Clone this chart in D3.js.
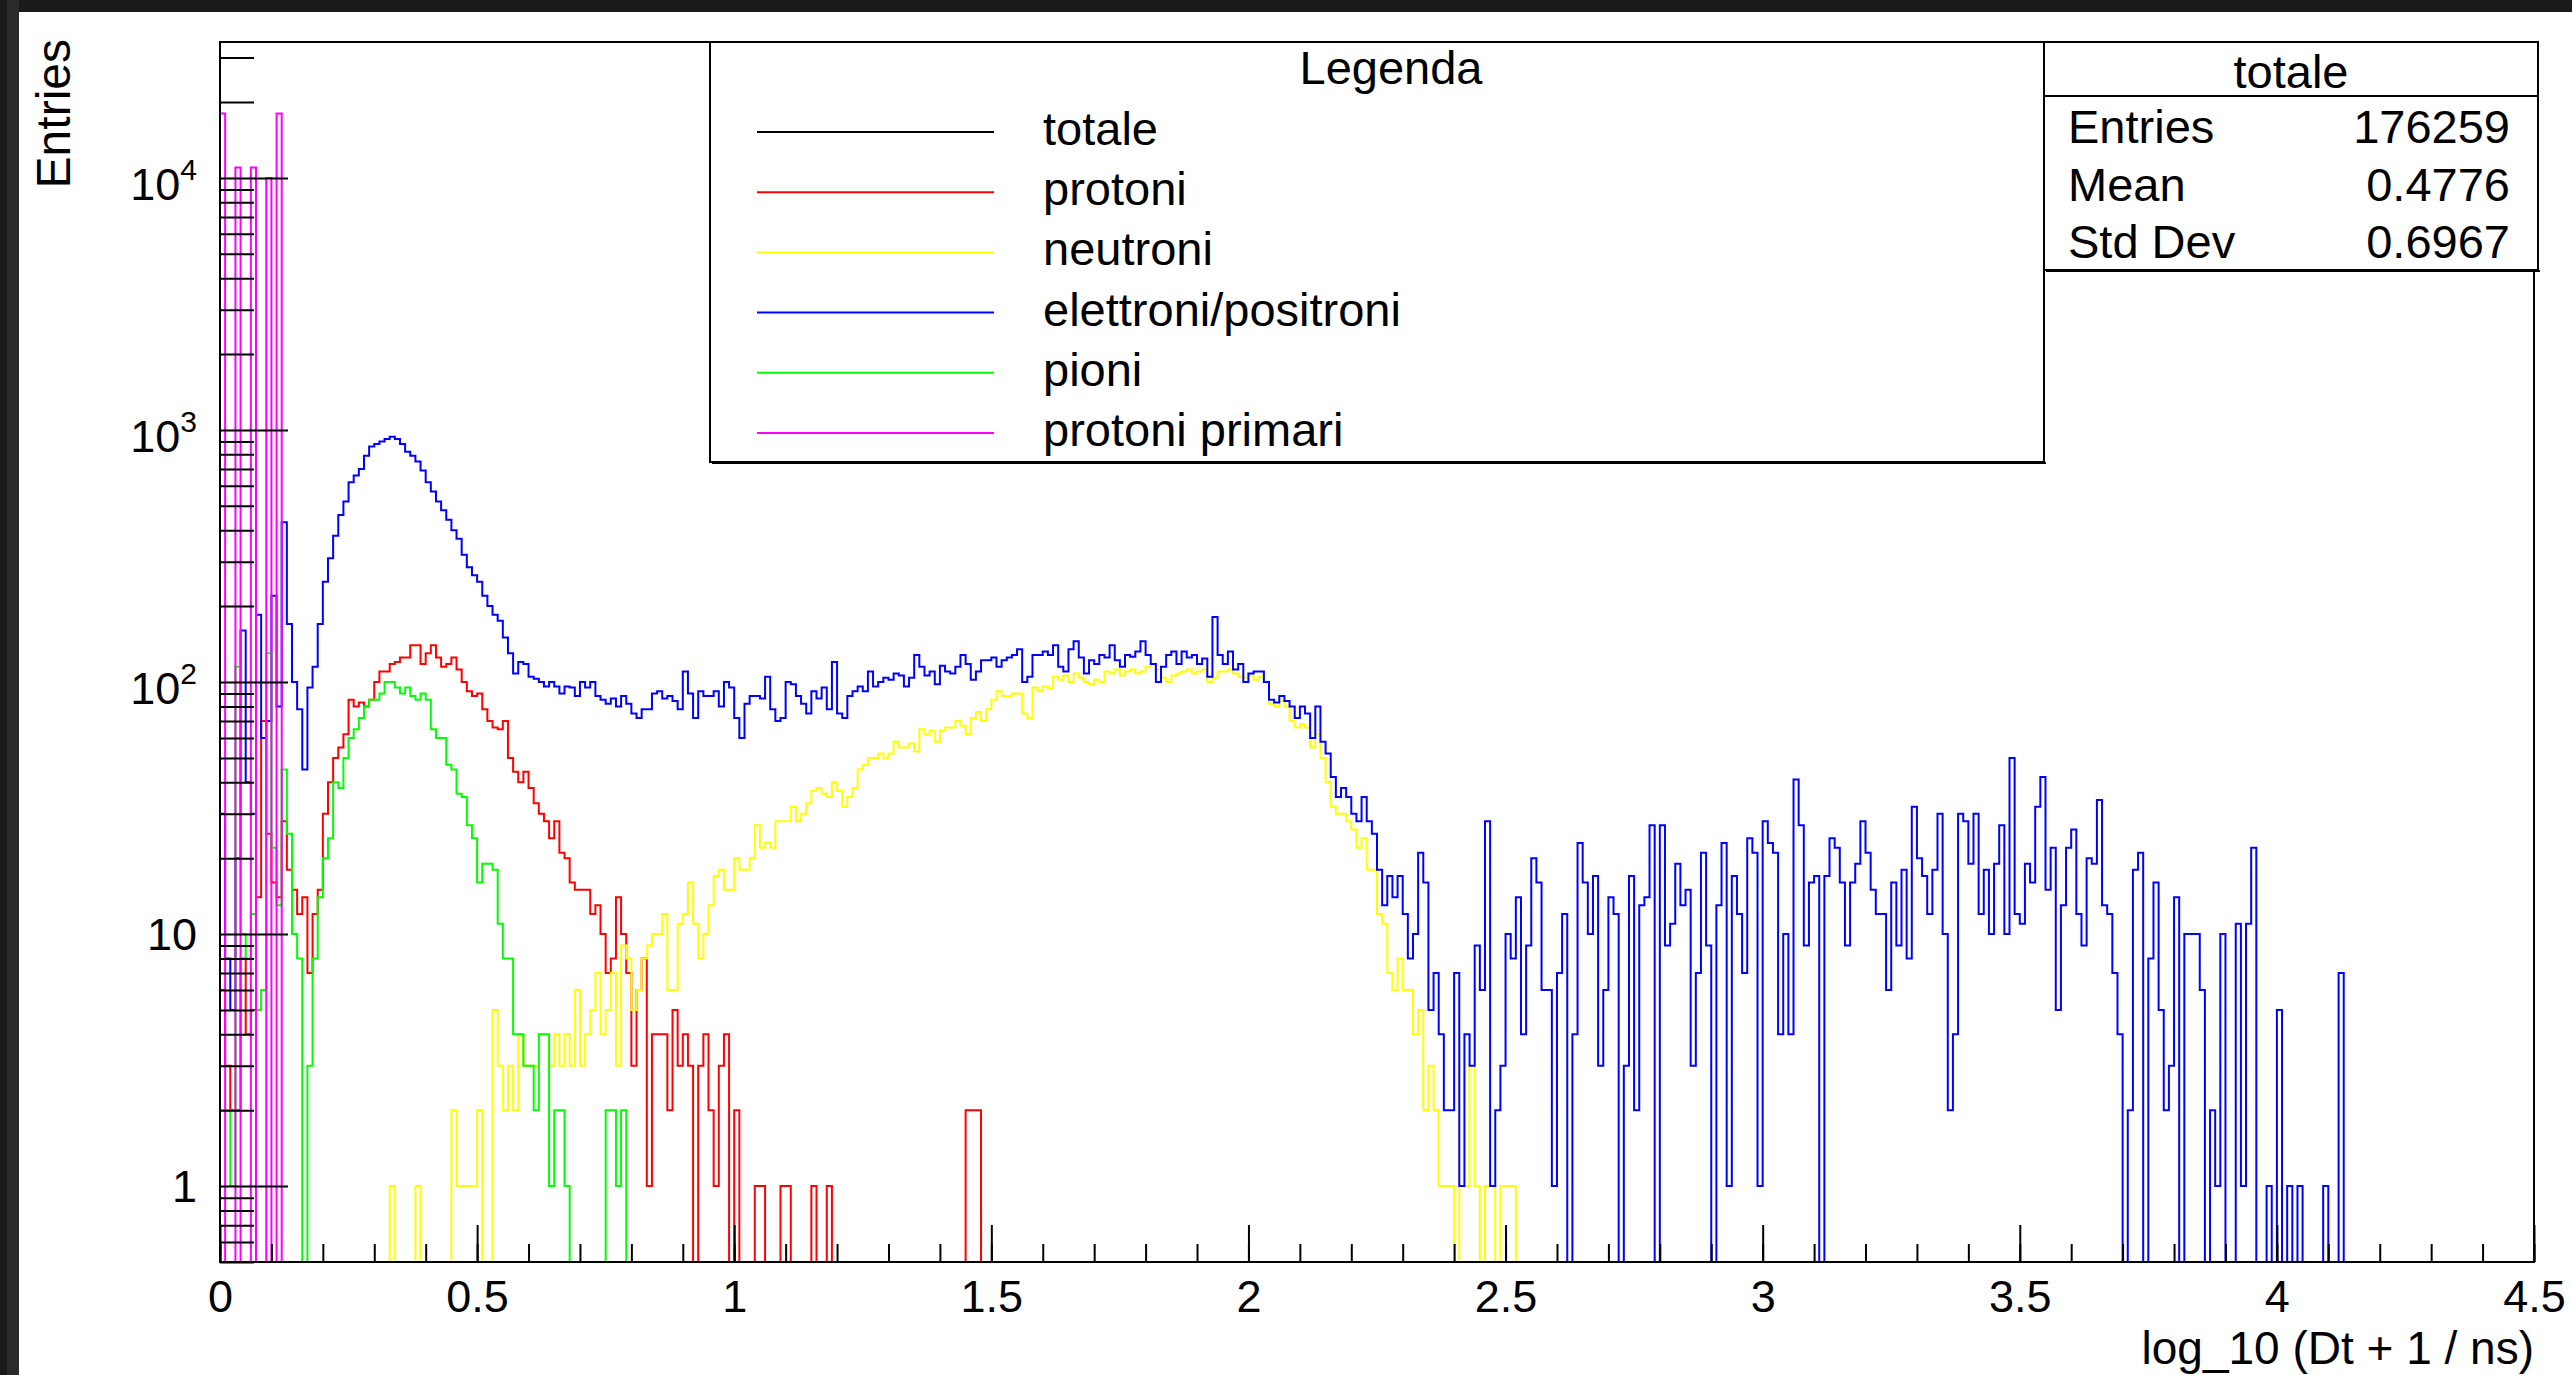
<!DOCTYPE html>
<html>
<head>
<meta charset="utf-8">
<script src="https://cdn.jsdelivr.net/npm/d3@7"></script>
<style>
  html, body { margin: 0; padding: 0; background: #1a1a1a; overflow: hidden; }
  svg { display: block; }
  text { font-family: "Liberation Sans", Arial, Helvetica, sans-serif; fill: #000; }
</style>
</head>
<body>
<script>
// histogram bins: 0.01 wide in log_10(Dt + 1 / ns), 0 .. 4.5
const binWidth = 0.01;
const nBins = 450;

// counts per bin (each series starts at bin "...Start")
const protoniStart = 0;
const protoni = [
  6, 3, 2, 2, 8, 4, 5, 14, 70, 25,
  16, 14, 28, 18, 15, 12, 14, 7, 12, 15,
  30, 40, 50, 55, 62, 85, 80, 83, 80, 85,
  100, 110, 110, 118, 120, 125, 125, 140, 140, 118,
  130, 140, 125, 115, 118, 125, 112, 100, 92, 88,
  90, 78, 70, 66, 65, 70, 50, 44, 40, 44,
  38, 33, 30, 28, 24, 28, 21, 20, 16, 15,
  15, 15, 12, 13, 10, 7, 8, 14, 10, 7,
  3, 6, 8, 1, 4, 4, 4, 2, 5, 3,
  4, 3, 0, 3, 4, 2, 1, 3, 4, 0,
  2, 0, 0, 0, 1, 1, 0, 0, 0, 1,
  1, 0, 0, 0, 0, 1, 0, 0, 1, 0,
  0, 0, 0, 0, 0, 0, 0, 0, 0, 0,
  0, 0, 0, 0, 0, 0, 0, 0, 0, 0,
  0, 0, 0, 0, 0, 2, 2, 2
];

const neutroniStart = 33;
const neutroni = [
  1, 0, 0, 0, 0, 1, 0, 0, 0, 0, 0, 0, 2, 1, 1, 1, 1, 2, 0, 0,
  5, 3, 2, 3, 2, 4, 3, 3, 3, 4, 4, 3, 4, 3, 4, 3, 6, 3, 4, 5, 7,
  4, 5, 7, 3, 9, 8, 5, 6, 8, 9,
  10, 10, 12, 6, 6, 11, 12, 16, 11, 8,
  10, 13, 17, 18, 15, 15, 20, 18, 18, 20,
  27, 22, 23, 22, 28, 28, 28, 32, 28, 30,
  33, 37, 38, 36, 35, 40, 37, 32, 35, 38,
  45, 47, 50, 50, 52, 50, 52, 58, 55, 55,
  57, 53, 65, 62, 64, 58, 64, 66, 66, 70,
  67, 62, 72, 76, 70, 78, 85, 92,
  88, 88, 90, 90, 75, 72, 95, 92, 96, 94,
  105, 102, 106, 100, 108, 104, 100, 98, 102, 100,
  110, 108, 112, 106, 110, 112, 108, 110, 115, 118,
  112, 104, 100, 106, 108, 110, 112, 108, 110, 112,
  100, 104, 110, 110, 112, 108, 105, 104, 106, 102,
  105, 100, 82, 80, 84, 80, 70, 66, 68, 66,
  55, 62, 50, 40, 32, 30, 30, 28, 26, 22,
  24, 18, 18, 12, 11, 7, 6, 8,
  6, 6, 4, 5, 2, 3, 2, 1, 1, 1, 0, 1, 1, 3, 1, 0, 1, 1, 0, 1, 1, 1
];

const elettroniStart = 0;
const elettroni = [
  30, 8, 5, 20, 160, 40, 30, 185, 60, 70,
  220, 80, 430, 170, 100, 78, 45, 95, 115, 170,
  250, 310, 380, 460, 520, 620, 660, 700, 790, 860,
  880, 900, 920, 940, 920, 880, 820, 790, 750, 690,
  620, 570, 520, 480, 440, 400, 370, 320, 285, 265,
  250, 220, 200, 185, 175, 150, 130, 108, 120, 118,
  105, 103, 100, 96, 100, 96, 90, 96, 95, 88,
  100, 95, 100, 88,
  85, 82, 86, 80, 88, 82, 75, 72, 78, 78,
  90, 92, 86, 88, 84, 78, 110, 90, 72, 92,
  88, 88, 92, 80, 100, 95, 72, 60, 82, 88,
  88, 86, 105, 78, 70, 72, 100, 98, 88, 82,
  75, 92, 86, 95, 78, 120, 75, 72, 88, 92,
  96, 92, 110, 96, 100, 104, 102, 108, 106, 96,
  104, 128, 115, 106, 110, 98, 116, 110, 108, 115,
  128, 118, 102, 110, 122, 122, 125, 115,
  122, 125, 128, 135, 100, 105, 128, 128, 132, 128,
  140, 115, 110, 135, 145, 125, 108, 122, 118, 128,
  125, 140, 122, 115, 128, 126, 132, 145, 128, 118,
  100, 115, 128, 132, 118, 132, 125, 128, 118, 124,
  105, 181, 128, 118, 132, 112, 118, 100, 108, 110,
  110, 100, 85, 83, 88, 84, 80, 72, 80, 75,
  60, 80, 58, 52, 42, 35, 38, 35, 30, 28,
  35, 28, 25, 18, 13, 17, 14, 17,
  12, 8, 10, 21, 16, 5, 7, 4, 2, 2,
  7, 1, 4, 3, 9, 6, 28, 1, 2, 3,
  10, 8, 14, 4, 9, 20, 16, 6, 6, 1,
  7, 12, 0, 4, 23, 16, 10, 17, 3, 6,
  14, 12, 0, 3, 17, 2, 13, 14, 27, 0,
  27, 9, 11, 19, 13, 15, 3, 7, 21, 9,
  0, 13, 23, 1, 17, 12, 7, 24, 21, 1,
  28, 23, 21, 4, 10, 4, 41, 27,
  9, 16, 17, 0, 17, 24, 22, 16, 9, 16,
  19, 28, 21, 15, 12, 12, 6, 16, 9, 18,
  8, 32, 20, 17, 12, 18, 30, 10, 2, 4,
  30, 28, 19, 30, 12, 18, 10, 19, 27, 10,
  50, 12, 11, 19, 16, 32, 42, 15, 22, 5,
  13, 22, 26, 12, 9, 20, 19, 34, 13, 12,
  7, 4, 0, 2, 18, 21, 0, 8,
  16, 5, 2, 3, 14, 0, 10, 10, 10, 6,
  0, 2, 1, 10, 0, 0, 11, 1, 11, 22,
  0, 0, 1, 0, 5, 0, 1, 0, 1, 0,
  0, 0, 0, 1, 0, 0, 7
];

const pioniStart = 0;
const pioni = [
  2, 2, 1, 115, 10, 8, 12, 5, 6, 130,
  22, 13, 45, 25, 10, 8, 0, 3, 8, 14,
  20, 24, 40, 38, 50, 60, 65, 72, 80, 85,
  85, 90, 100, 100, 95, 90, 95, 88, 85, 90,
  85, 65, 60, 60, 47, 45, 36, 35, 27, 24,
  16, 19, 19, 18, 11, 8, 8, 4, 4, 3,
  3, 2, 4, 4, 1, 2, 2, 1, 0, 0,
  0, 0, 0, 0, 0, 2, 2, 1, 2
];

const primariStart = 0;
const primari = [18000, 0, 0, 11000, 0, 0, 11000, 0, 0, 10000, 0, 18000];

// legend and stats box texts
const legendLabels = ["totale", "protoni", "neutroni", "elettroni/positroni", "pioni", "protoni primari"];
const legendColors = ["#000000", "#ff0000", "#ffff00", "#0000ff", "#00ff00", "#ff00ff"];
const statsNames = ["Entries", "Mean", "Std Dev"];
const statsValues = ["176259", "0.4776", "0.6967"];

const xTickLabels = [0, 0.5, 1, 1.5, 2, 2.5, 3, 3.5, 4, 4.5];
const yMajor = [1, 10, 100, 1000, 10000];

const width = 2572, height = 1375;
const yMin = 0.5;

const svg = d3.select("body").append("svg")
    .attr("width", width)
    .attr("height", height);

// window border + white canvas
svg.append("rect").attr("x", 7).attr("y", 0).attr("width", 12).attr("height", height).attr("fill", "#2a2a2a");
svg.append("rect").attr("x", 19).attr("y", 12).attr("width", width - 19).attr("height", height - 12).attr("fill", "#fff");

const x = d3.scaleLinear().domain([0, 4.5]).range([220, 2534]);
const y = d3.scaleLog().domain([yMin, 34600]).range([1262, 42]);

svg.append("clipPath").attr("id", "frame")
  .append("rect").attr("x", 219).attr("y", 42).attr("width", 2316).attr("height", 1221);

function fullBins(start, values) {
    const b = new Array(nBins).fill(0);
    values.forEach((v, i) => { b[start + i] = v; });
    return b;
}

const stepLine = d3.line()
    .x(d => x(d[0]))
    .y(d => y(Math.max(d[1], yMin)))
    .curve(d3.curveStepAfter);

function histPoints(bins) {
    const pts = bins.map((v, i) => [i * binWidth, v]);
    pts.push([nBins * binWidth, bins[nBins - 1]]);
    return pts;
}

const series = [
    { bins: fullBins(protoniStart, protoni), color: "#ff0000" },
    { bins: fullBins(neutroniStart, neutroni), color: "#ffff00" },
    { bins: fullBins(elettroniStart, elettroni), color: "#0000ff" },
    { bins: fullBins(pioniStart, pioni), color: "#00ff00" },
    { bins: fullBins(primariStart, primari), color: "#ff00ff" }
];

svg.append("g")
    .attr("clip-path", "url(#frame)")
    .selectAll("path")
    .data(series)
    .join("path")
    .attr("d", d => stepLine(histPoints(d.bins)))
    .attr("fill", "none")
    .attr("stroke", d => d.color)
    .attr("stroke-width", 2);

// x axis ticks (pointing up into the frame)
const xMinor = svg.append("g").attr("transform", "translate(0,1262)")
    .call(d3.axisBottom(x).ticks(45).tickSize(-18).tickFormat(""));
xMinor.selectAll(".tick text").remove();
const xMajor = svg.append("g").attr("transform", "translate(0,1262)")
    .call(d3.axisBottom(x).tickValues(xTickLabels).tickSize(-37).tickPadding(18)
        .tickFormat(d => String(+d.toFixed(1))));
[xMinor, xMajor].forEach(g => {
    g.select(".domain").remove();
    g.selectAll(".tick line").attr("stroke", "#000").attr("stroke-width", 2);
});
xMajor.selectAll(".tick text")
    .attr("font-size", 45)
    .attr("font-family", "Liberation Sans, Arial, sans-serif")
    .attr("fill", "#000");

// y axis ticks
const yMinorVals = y.ticks().filter(v => !yMajor.includes(v));
const yMinorAxis = svg.append("g").attr("transform", "translate(220,0)")
    .call(d3.axisLeft(y).tickValues(yMinorVals).tickSize(-34).tickFormat(""));
const yMajorAxis = svg.append("g").attr("transform", "translate(220,0)")
    .call(d3.axisLeft(y).tickValues(yMajor).tickSize(-68).tickFormat(""));
[yMinorAxis, yMajorAxis].forEach(g => {
    g.select(".domain").remove();
    g.selectAll(".tick text").remove();
    g.selectAll(".tick line").attr("stroke", "#000").attr("stroke-width", 2);
});

// y labels with exponents like ROOT
const yLab = svg.append("g").selectAll("text")
    .data(yMajor)
    .join("text")
    .attr("x", 197)
    .attr("y", d => y(d) + 16 + (d >= 100 ? 6 : 0))
    .attr("text-anchor", "end")
    .attr("font-size", 45);
yLab.each(function (d) {
    const t = d3.select(this);
    if (d < 100) {
        t.text(String(d));
    } else {
        t.append("tspan").text("10");
        t.append("tspan").attr("font-size", 30).attr("dy", -20).text(String(Math.round(Math.log10(d))));
    }
});

// frame
svg.append("rect")
    .attr("x", 220).attr("y", 42).attr("width", 2314).attr("height", 1220)
    .attr("fill", "none").attr("stroke", "#000").attr("stroke-width", 2);

// axis titles
svg.append("text")
    .attr("x", 2534).attr("y", 1364)
    .attr("text-anchor", "end")
    .attr("font-size", 46)
    .text("log_10 (Dt + 1 / ns)");

svg.append("text")
    .attr("transform", "translate(70,39) rotate(-90)")
    .attr("text-anchor", "end")
    .attr("font-size", 48)
    .text("Entries");

// legend
const leg = svg.append("g");
leg.append("rect")
    .attr("x", 710).attr("y", 42).attr("width", 1334).attr("height", 420)
    .attr("fill", "#fff").attr("stroke", "#000").attr("stroke-width", 2);
leg.append("line")
    .attr("x1", 712).attr("x2", 2046).attr("y1", 463).attr("y2", 463)
    .attr("stroke", "#000").attr("stroke-width", 2);
leg.append("text")
    .attr("x", 1391).attr("y", 84)
    .attr("text-anchor", "middle")
    .attr("font-size", 47)
    .text("Legenda");
const rowY = d3.scaleLinear().domain([0, 5]).range([132, 433]);
const legRows = leg.selectAll("g.row")
    .data(legendLabels)
    .join("g")
    .attr("class", "row");
legRows.append("line")
    .attr("x1", 757).attr("x2", 994)
    .attr("y1", (d, i) => rowY(i)).attr("y2", (d, i) => rowY(i))
    .attr("stroke", (d, i) => legendColors[i])
    .attr("stroke-width", 2);
legRows.append("text")
    .attr("x", 1043)
    .attr("y", (d, i) => rowY(i) + 13)
    .attr("font-size", 47)
    .text(d => d);

// stats box
const st = svg.append("g");
st.append("rect")
    .attr("x", 2044).attr("y", 42).attr("width", 494).attr("height", 228)
    .attr("fill", "#fff").attr("stroke", "#000").attr("stroke-width", 2);
st.append("line")
    .attr("x1", 2046).attr("x2", 2540).attr("y1", 271).attr("y2", 271)
    .attr("stroke", "#000").attr("stroke-width", 2);
st.append("line")
    .attr("x1", 2044).attr("x2", 2538).attr("y1", 96).attr("y2", 96)
    .attr("stroke", "#000").attr("stroke-width", 2);
st.append("text")
    .attr("x", 2291).attr("y", 88)
    .attr("text-anchor", "middle")
    .attr("font-size", 47)
    .text("totale");
const statY = d3.scaleLinear().domain([0, 2]).range([143, 258]);
st.selectAll("text.name")
    .data(statsNames)
    .join("text")
    .attr("class", "name")
    .attr("x", 2068)
    .attr("y", (d, i) => statY(i))
    .attr("font-size", 47)
    .text(d => d);
st.selectAll("text.val")
    .data(statsValues)
    .join("text")
    .attr("class", "val")
    .attr("x", 2510)
    .attr("y", (d, i) => statY(i))
    .attr("text-anchor", "end")
    .attr("font-size", 47)
    .text(d => d);
</script>
</body>
</html>
